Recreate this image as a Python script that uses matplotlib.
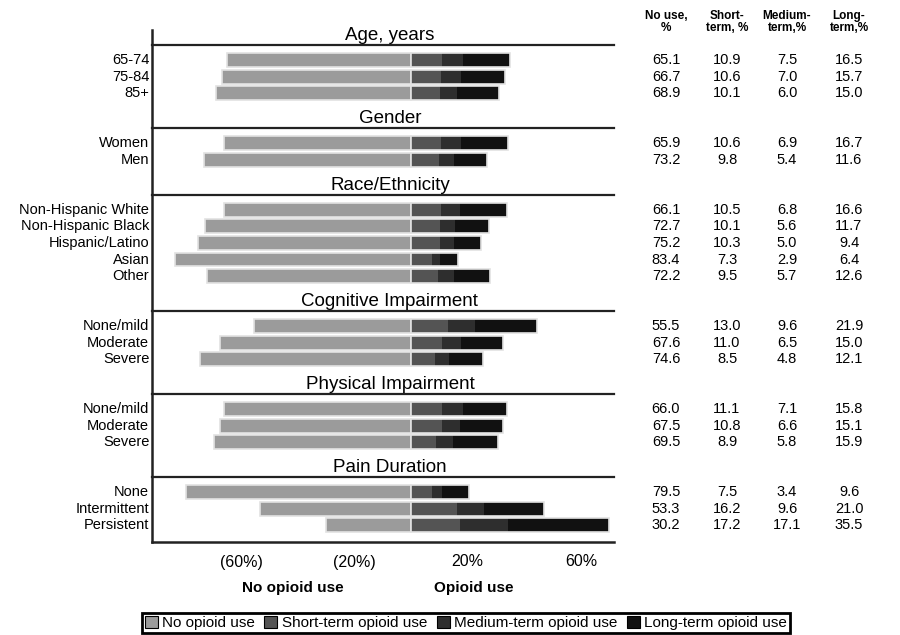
import matplotlib
matplotlib.use('Agg')
import matplotlib.pyplot as plt
from matplotlib.transforms import blended_transform_factory
from matplotlib.patches import Patch

plt.rcParams['font.family'] = ['Liberation Sans', 'DejaVu Sans']

groups = ["Age, years", "Gender", "Race/Ethnicity", "Cognitive Impairment",
          "Physical Impairment", "Pain Duration"]
row_labels = [["65-74", "75-84", "85+"],
              ["Women", "Men"],
              ["Non-Hispanic White", "Non-Hispanic Black", "Hispanic/Latino", "Asian", "Other"],
              ["None/mild", "Moderate", "Severe"],
              ["None/mild", "Moderate", "Severe"],
              ["None", "Intermittent", "Persistent"]]
no_use = [[65.1, 66.7, 68.9], [65.9, 73.2], [66.1, 72.7, 75.2, 83.4, 72.2],
          [55.5, 67.6, 74.6], [66.0, 67.5, 69.5], [79.5, 53.3, 30.2]]
short_term = [[10.9, 10.6, 10.1], [10.6, 9.8], [10.5, 10.1, 10.3, 7.3, 9.5],
              [13.0, 11.0, 8.5], [11.1, 10.8, 8.9], [7.5, 16.2, 17.2]]
medium_term = [[7.5, 7.0, 6.0], [6.9, 5.4], [6.8, 5.6, 5.0, 2.9, 5.7],
               [9.6, 6.5, 4.8], [7.1, 6.6, 5.8], [3.4, 9.6, 17.1]]
long_term = [[16.5, 15.7, 15.0], [16.7, 11.6], [16.6, 11.7, 9.4, 6.4, 12.6],
             [21.9, 15.0, 12.1], [15.8, 15.1, 15.9], [9.6, 21.0, 35.5]]
col_headers = ["No use,\n%", "Short-\nterm, %", "Medium-\nterm,%", "Long-\nterm,%"]
xticks = [-60, -20, 20, 60]
xticklabels = ["(60%)", "(20%)", "20%", "60%"]
series_names = ["No opioid use", "Short-term opioid use", "Medium-term opioid use", "Long-term opioid use"]
colors = ["#9b9b9b", "#545454", "#2e2e2e", "#111111"]

fig = plt.figure(figsize=(9, 6.35), dpi=100)
ax = fig.add_axes([152/900, 1-542/635, (614-152)/900, (542-30)/635])

# layout of rows
y = 0.9
line_ys, rows_y = [], []
for g, labs in zip(groups, row_labels):
    line_ys.append(y)
    y += 0.92
    ys = []
    for _ in labs:
        ys.append(y)
        y += 1
    rows_y.append(ys)
    y += 1.1
bottom = rows_y[-1][-1] + 1.0

ax.set_xlim(-91.5, 71.7)
ax.set_ylim(bottom, 0)

h = 0.84
ec = '#e2e2e2'
tr_fig = blended_transform_factory(fig.transFigure, ax.transData)
tr_ax = blended_transform_factory(ax.transAxes, ax.transData)
col_x = [666/900, 727/900, 787/900, 849/900]
for i, g in enumerate(groups):
    ys = rows_y[i]
    nu = no_use[i]; s = short_term[i]; m = medium_term[i]; l = long_term[i]
    ax.barh(ys, [-v for v in nu], height=h, color=colors[0], edgecolor=ec, lw=1.2)
    ax.barh(ys, s, height=h, color=colors[1], lw=0)
    ax.barh(ys, m, left=s, height=h, color=colors[2], lw=0)
    left3 = [a + b for a, b in zip(s, m)]
    ax.barh(ys, l, left=left3, height=h, color=colors[3], lw=0)
    tot = [a + b + c for a, b, c in zip(s, m, l)]
    ax.barh(ys, tot, height=h, facecolor='none', edgecolor=ec, lw=1.2)
    ax.axhline(line_ys[i], color='#222222', lw=1.6, clip_on=False)
    ax.text(0.515, line_ys[i] - 0.3, g, transform=tr_ax,
            ha='center', va='baseline', fontsize=13.5, clip_on=False)
    for yy, lab in zip(ys, row_labels[i]):
        ax.text(-0.006, yy, lab, transform=tr_ax, ha='right', va='center', fontsize=10.5)
    for j, yy in enumerate(ys):
        vals = [nu[j], s[j], m[j], l[j]]
        for cx, v in zip(col_x, vals):
            ax.text(cx, yy, f"{v:.1f}", transform=tr_fig, ha='center', va='center',
                    fontsize=10.5, clip_on=False)

for cx, t in zip(col_x, col_headers):
    fig.text(cx, 1-22/635, t, ha='center', va='center', fontsize=8.5, fontweight='bold', linespacing=1.1)

for sp in ['top', 'right']:
    ax.spines[sp].set_visible(False)
ax.spines['left'].set_linewidth(1.8)
ax.spines['bottom'].set_linewidth(1.8)
ax.spines['left'].set_color('#222222')
ax.spines['bottom'].set_color('#222222')
ax.set_yticks([])
ax.set_xticks(xticks)
ax.set_xticklabels(xticklabels, fontsize=11.5)
ax.tick_params(axis='x', length=0, pad=9)

fig.text(293/900, 1-588/635, "No opioid use", ha='center', va='center', fontsize=11, fontweight='bold')
fig.text(474/900, 1-588/635, "Opioid use", ha='center', va='center', fontsize=11, fontweight='bold')

handles = [Patch(facecolor=c, edgecolor='black', lw=0.8) for c in colors]
leg = fig.legend(handles, series_names, loc='center', bbox_to_anchor=(466/900, 1-623/635),
                 ncol=4, frameon=True, fancybox=False, framealpha=1, fontsize=11,
                 handlelength=0.85, handleheight=0.85,
                 handletextpad=0.3, columnspacing=0.6, borderpad=0.2, borderaxespad=0)
leg.get_frame().set_edgecolor('black')
leg.get_frame().set_linewidth(2)

fig.savefig('out.png', dpi=100)
